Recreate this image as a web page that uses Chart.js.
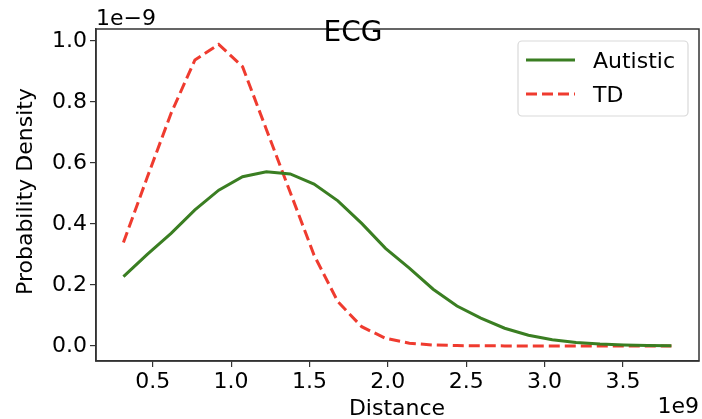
<!DOCTYPE html>
<html>
<head>
<meta charset="utf-8">
<script src="https://cdn.jsdelivr.net/npm/chart.js@4/dist/chart.umd.min.js"></script>
<style>
  html, body { margin: 0; padding: 0; background: #fff; }
  #wrap { width: 702px; height: 419px; position: relative; }
</style>
</head>
<body>
<div id="wrap"><canvas id="c" width="702" height="419"></canvas></div>
<script>
// Data (distance in units of 1e9, density in units of 1e-9)
const distance = [0.313, 0.465, 0.617, 0.769, 0.921, 1.073, 1.225, 1.377, 1.529, 1.681, 1.833, 1.985,
                  2.137, 2.289, 2.441, 2.593, 2.745, 2.897, 3.049, 3.201, 3.353, 3.505, 3.657, 3.809];
const autistic = [0.227, 0.300, 0.369, 0.446, 0.511, 0.555, 0.571, 0.564, 0.531, 0.476, 0.402, 0.320,
                  0.255, 0.186, 0.131, 0.091, 0.058, 0.035, 0.020, 0.011, 0.006, 0.003, 0.0015, 0.0007];
const td = [0.339, 0.553, 0.763, 0.938, 0.989, 0.916, 0.710, 0.504, 0.298, 0.145, 0.063, 0.025,
            0.009, 0.003, 0.001, 0.0003, 0.0001, 0, 0, 0, 0, 0, 0, 0];
const xTicks = [0.5, 1.0, 1.5, 2.0, 2.5, 3.0, 3.5];
const yTicks = [0.0, 0.2, 0.4, 0.6, 0.8, 1.0];
const seriesNames = ['Autistic', 'TD'];
const titleText = 'ECG';
const xLabel = 'Distance';
const yLabel = 'Probability Density';
const xOffsetText = '1e9';
const yOffsetText = '1e\u22129';

const GREEN = '#3a7e22';
const RED = '#ef3b2f';
const FONT = '"DejaVu Sans", sans-serif';

const decor = {
  id: 'decor',
  afterDraw(chart) {
    const ctx = chart.ctx;
    const a = chart.chartArea;
    ctx.save();
    // frame (spines)
    ctx.strokeStyle = '#333';
    ctx.lineWidth = 1.5;
    ctx.strokeRect(a.left, a.top, a.right - a.left, a.bottom - a.top);
    ctx.fillStyle = '#000';
    // title
    ctx.font = '28px ' + FONT;
    ctx.textAlign = 'center';
    ctx.textBaseline = 'alphabetic';
    ctx.fillText(titleText, 353, 41);
    // offset texts
    ctx.font = '22px ' + FONT;
    ctx.textAlign = 'left';
    ctx.fillText(yOffsetText, 96, 25);
    ctx.textAlign = 'right';
    ctx.fillText(xOffsetText, 699, 413);
    // axis labels
    ctx.textAlign = 'center';
    ctx.fillText(xLabel, 397, 415);
    ctx.save();
    ctx.translate(32, 191.5);
    ctx.rotate(-Math.PI / 2);
    ctx.fillText(yLabel, 0, 0);
    ctx.restore();
    // legend
    const lx = 518, ly = 41, lw = 170, lh = 75, r = 4;
    ctx.beginPath();
    ctx.moveTo(lx + r, ly);
    ctx.arcTo(lx + lw, ly, lx + lw, ly + lh, r);
    ctx.arcTo(lx + lw, ly + lh, lx, ly + lh, r);
    ctx.arcTo(lx, ly + lh, lx, ly, r);
    ctx.arcTo(lx, ly, lx + lw, ly, r);
    ctx.closePath();
    ctx.fillStyle = 'rgba(255,255,255,0.85)';
    ctx.fill();
    ctx.strokeStyle = '#d9d9d9';
    ctx.lineWidth = 1.2;
    ctx.stroke();
    const ds = chart.data.datasets;
    const rows = [60, 94];
    ds.forEach((d, i) => {
      ctx.strokeStyle = d.borderColor;
      ctx.lineWidth = d.borderWidth;
      ctx.setLineDash(d.borderDash || []);
      ctx.beginPath();
      ctx.moveTo(526, rows[i]);
      ctx.lineTo(575, rows[i]);
      ctx.stroke();
      ctx.setLineDash([]);
      ctx.fillStyle = '#000';
      ctx.textAlign = 'left';
      ctx.textBaseline = 'alphabetic';
      ctx.font = '22px ' + FONT;
      ctx.fillText(seriesNames[i], 593, rows[i] + 8);
    });
    ctx.restore();
  }
};

new Chart(document.getElementById('c'), {
  type: 'line',
  data: {
    datasets: [
      {
        label: seriesNames[0],
        data: distance.map((x, i) => ({ x: x, y: autistic[i] })),
        borderColor: GREEN,
        borderWidth: 3,
        pointRadius: 0,
        fill: false,
        tension: 0
      },
      {
        label: seriesNames[1],
        data: distance.map((x, i) => ({ x: x, y: td[i] })),
        borderColor: RED,
        borderWidth: 3,
        borderDash: [11, 5],
        pointRadius: 0,
        fill: false,
        tension: 0
      }
    ]
  },
  options: {
    responsive: false,
    animation: false,
    devicePixelRatio: 1,
    layout: { padding: { left: 0, top: 29, right: 3, bottom: 0 } },
    plugins: { legend: { display: false }, tooltip: { enabled: false }, title: { display: false } },
    scales: {
      x: {
        type: 'linear',
        min: 0.138,
        max: 3.985,
        afterBuildTicks(s) { s.ticks = xTicks.map(v => ({ value: v })); },
        afterFit(s) { s.height = 58; },
        grid: { drawOnChartArea: false, drawTicks: true, tickLength: 6, color: '#333', lineWidth: 1.2 },
        border: { display: true, color: '#333', width: 1.5 },
        ticks: {
          color: '#000',
          font: { family: FONT, size: 22 },
          padding: 2,
          maxRotation: 0,
          callback: v => v.toFixed(1)
        }
      },
      y: {
        type: 'linear',
        min: -0.0495,
        max: 1.0395,
        afterBuildTicks(s) { s.ticks = yTicks.map(v => ({ value: v })); },
        afterFit(s) { s.width = 96; },
        grid: { drawOnChartArea: false, drawTicks: true, tickLength: 6, color: '#333', lineWidth: 1.2 },
        border: { display: true, color: '#333', width: 1.5 },
        ticks: {
          color: '#000',
          font: { family: FONT, size: 22 },
          padding: 3,
          callback: v => v.toFixed(1)
        }
      }
    }
  },
  plugins: [decor]
});
</script>
</body>
</html>
